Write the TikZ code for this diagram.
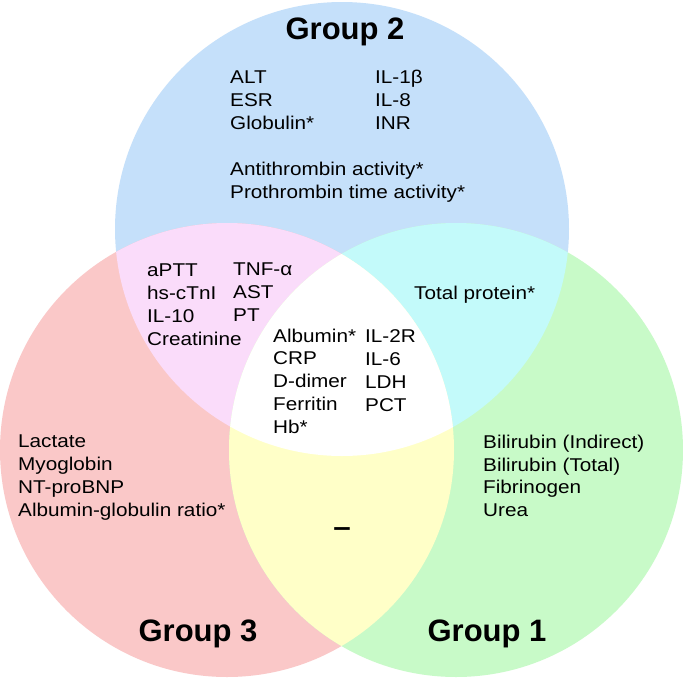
\documentclass[tikz,border=0pt]{standalone}
\usepackage{fontspec}
\setmainfont{Liberation Sans}[FakeStretch=1.12]
\newfontfamily\grpfont{Liberation Sans}
\definecolor{cblue}{RGB}{197,224,250}
\definecolor{cred}{RGB}{250,200,200}
\definecolor{cgreen}{RGB}{200,250,200}
\definecolor{cpink}{RGB}{250,220,250}
\definecolor{ccyan}{RGB}{195,250,250}
\definecolor{cyellow}{RGB}{255,255,200}
\begin{document}
\begin{tikzpicture}[x=1pt,y=-1pt,
  lbl/.style={inner sep=0pt,anchor=base west,align=left,font=\fontsize{18.5}{22.7}\selectfont},
  grp/.style={inner sep=0pt,anchor=base,font=\grpfont\bfseries\fontsize{31}{36}\selectfont}]
\useasboundingbox (0,0) rectangle (683,678);
\fill[white] (0,0) rectangle (683,678);
\coordinate (c2) at (342,229);
\coordinate (c3) at (227,450);
\coordinate (c1) at (456,450);
\fill[cblue] (c2) circle[radius=227pt];
\fill[cred] (c3) circle[radius=227pt];
\fill[cgreen] (c1) circle[radius=227pt];
\begin{scope}
  \clip (c2) circle[radius=227pt];
  \fill[cpink] (c3) circle[radius=227pt];
  \fill[ccyan] (c1) circle[radius=227pt];
\end{scope}
\begin{scope}
  \clip (c3) circle[radius=227pt];
  \fill[cyellow] (c1) circle[radius=227pt];
  \clip (c1) circle[radius=227pt];
  \fill[white] (c2) circle[radius=227pt];
\end{scope}
% group titles
\node[grp] (g2) at (345,39) {Group 2};
\node[grp] (g3) at (198,641) {Group 3};
\node[grp] (g1) at (487,641) {Group 1};
% group 2 only (anchor = baseline of last line)
\node[lbl] (g2a) at (230,129) {ALT\\ESR\\Globulin*};
\node[lbl] (g2b) at (375,129) {IL-1β\\IL-8\\INR};
\node[lbl] (g2c) at (230,198) {Antithrombin activity*\\Prothrombin time activity*};
% group 2 & 3
\node[lbl] (g23a) at (147,345) {aPTT\\hs-cTnI\\IL-10\\Creatinine};
\node[lbl] (g23b) at (233,321) {TNF-α\\AST\\PT};
% all
\node[lbl] (ca) at (273,433) {Albumin*\\CRP\\D-dimer\\Ferritin\\Hb*};
\node[lbl] (cb) at (365,411) {IL-2R\\IL-6\\LDH\\PCT};
% group 2 & 1
\node[lbl] (g21) at (414,299) {Total protein*};
% group 3 only
\node[lbl] (g3a) at (18,516) {Lactate\\Myoglobin\\NT-proBNP\\Albumin-globulin ratio*};
% group 1 only
\node[lbl] (g1a) at (483,516.5) {Bilirubin (Indirect)\\Bilirubin (Total)\\Fibrinogen\\Urea};
% group 3 & 1
\node[inner sep=0pt,font=\bfseries\fontsize{28}{30}\selectfont] (g31) at (342,532) {–};
\end{tikzpicture}
\end{document}
